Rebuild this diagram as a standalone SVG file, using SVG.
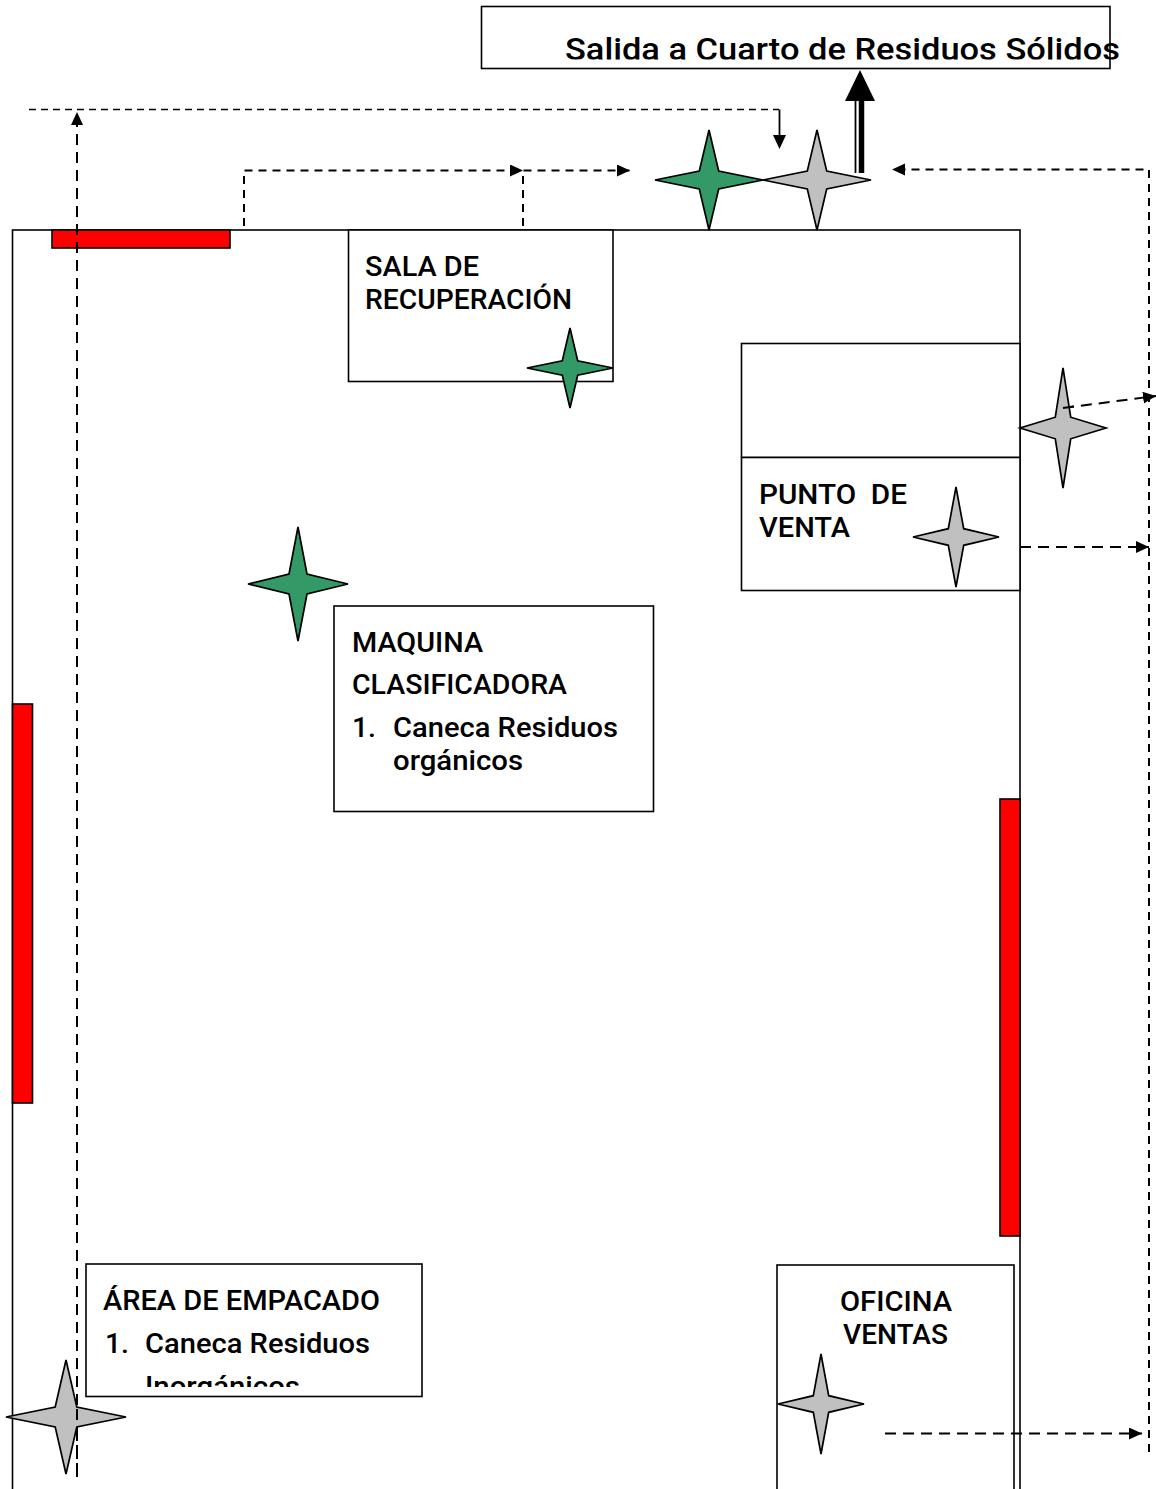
<svg xmlns="http://www.w3.org/2000/svg" width="1156" height="1489" viewBox="0 0 1156 1489">
<style>
.box{fill:#fff;stroke:#000;stroke-width:1.6}
.red{fill:#f00;stroke:#000;stroke-width:1.6}
.g{fill:#339966;stroke:#000;stroke-width:1.7;stroke-linejoin:miter}
.s{fill:#c0c0c0;stroke:#000;stroke-width:1.7;stroke-linejoin:miter}
.d{fill:none;stroke:#000;stroke-width:1.6;stroke-dasharray:7 5}
.h{fill:none;stroke:#000;stroke-width:2;stroke-dasharray:8 6}
.v{fill:none;stroke:#000;stroke-width:2;stroke-dasharray:11 7}
.t{font-family:Roboto,"Open Sans","Noto Sans",sans-serif;font-weight:500;font-size:28px;fill:#000}
</style>
<defs>
<marker id="a" markerUnits="userSpaceOnUse" markerWidth="14" markerHeight="14" refX="13" refY="6" orient="auto"><path d="M0 0L13 6L0 12Z" fill="#000"/></marker>
<clipPath id="c1"><rect x="482" y="6" width="680" height="53.500"/></clipPath>
<clipPath id="c2"><rect x="86" y="1264" width="336" height="123"/></clipPath>
</defs>
<g id="sala-principal">
<rect class="box" x="12.500" y="230" width="1007.500" height="1290"/>
</g>
<g id="red-top"><rect class="red" x="52" y="230" width="178" height="18"/></g>
<g id="red-left"><rect class="red" x="12.500" y="704" width="20" height="399"/></g>
<g id="red-right"><rect class="red" x="1000" y="799" width="20" height="437"/></g>
<g id="salida">
<rect class="box" x="481.500" y="6.500" width="628.500" height="62"/>
<text class="t" x="565" y="60" clip-path="url(#c1)" textLength="555" lengthAdjust="spacingAndGlyphs" style="font-size:32px">Salida a Cuarto de Residuos Sólidos</text>
</g>
<g id="sala-recuperacion">
<rect class="box" x="348.500" y="230" width="264.500" height="151.500"/>
<text class="t" x="365" y="276" textLength="114" lengthAdjust="spacingAndGlyphs">SALA DE</text>
<text class="t" x="365" y="309" textLength="207" lengthAdjust="spacingAndGlyphs">RECUPERACIÓN</text>
</g>
<g id="punto-venta">
<rect class="box" x="741.500" y="343.500" width="278.500" height="114"/>
<rect class="box" x="741.500" y="457.500" width="278.500" height="133"/>
<text class="t" x="759" y="504" textLength="148" lengthAdjust="spacingAndGlyphs" xml:space="preserve">PUNTO  DE</text>
<text class="t" x="759" y="537" textLength="91" lengthAdjust="spacingAndGlyphs">VENTA</text>
</g>
<g id="maquina">
<rect class="box" x="334" y="606" width="319.500" height="205.500"/>
<text class="t" x="352" y="652" textLength="131" lengthAdjust="spacingAndGlyphs">MAQUINA</text>
<text class="t" x="352" y="694" textLength="215" lengthAdjust="spacingAndGlyphs">CLASIFICADORA</text>
<text class="t" x="352" y="737" textLength="24" lengthAdjust="spacingAndGlyphs">1.</text>
<text class="t" x="393" y="737" textLength="225" lengthAdjust="spacingAndGlyphs">Caneca Residuos</text>
<text class="t" x="393" y="770" textLength="130" lengthAdjust="spacingAndGlyphs">orgánicos</text>
</g>
<g id="empacado">
<rect class="box" x="86" y="1264" width="336" height="132.500"/>
<text class="t" x="103" y="1310" textLength="277" lengthAdjust="spacingAndGlyphs">ÁREA DE EMPACADO</text>
<text class="t" x="105" y="1353" textLength="24" lengthAdjust="spacingAndGlyphs">1.</text>
<text class="t" x="145" y="1353" textLength="225" lengthAdjust="spacingAndGlyphs">Caneca Residuos</text>
<text class="t" x="145" y="1396" textLength="155" lengthAdjust="spacingAndGlyphs" clip-path="url(#c2)">Inorgánicos</text>
</g>
<g id="oficina">
<rect class="box" x="777" y="1265" width="237" height="260"/>
<text class="t" x="840" y="1311" textLength="112" lengthAdjust="spacingAndGlyphs">OFICINA</text>
<text class="t" x="843" y="1344" textLength="105" lengthAdjust="spacingAndGlyphs">VENTAS</text>
</g>
<g id="connectors">
<path class="d" d="M29 109.500H779"/>
<path d="M779.500 109.500V136" stroke="#000" stroke-width="1.800" fill="none"/>
<path d="M773 135H786L779.500 149Z"/>
<path class="v" d="M77 1477V112" marker-end="url(#a)"/>
<path class="h" d="M244 226V170.500H523" marker-end="url(#a)"/>
<path class="h" d="M523 226V170.500H630" marker-end="url(#a)"/>
<path class="h" d="M1149 1452V169.500H892" marker-end="url(#a)"/>
<path class="v" d="M1063 408L1156 396" marker-end="url(#a)"/>
<path class="v" d="M1020 547H1149" marker-end="url(#a)"/>
<path class="v" d="M885 1433.500H1142" marker-end="url(#a)"/>
<path d="M855.500 173V100" stroke="#000" stroke-width="1.800" fill="none"/>
<path d="M861.500 173V100" stroke="#000" stroke-width="5.500" fill="none"/>
<path d="M860 70L875 101H845Z"/>
</g>
<g id="star-green-top"><polygon class="g" points="709,130 718.700,171 763,180 718.700,189 709,230 699.300,189 655,180 699.300,171"/></g>
<g id="star-gray-top"><polygon class="s" points="817,130 826.700,171 871,180 826.700,189 817,230 807.300,189 763,180 807.300,171"/></g>
<g id="star-green-sala"><polygon class="g" points="570,328 577.700,360.800 613,368 577.700,375.200 570,408 562.300,375.200 527,368 562.300,360.800"/></g>
<g id="star-gray-right"><polygon class="s" points="1063,368 1070.700,417.200 1106,428 1070.700,438.800 1063,488 1055.300,438.800 1020,428 1055.300,417.200"/></g>
<g id="star-gray-punto"><polygon class="s" points="956,487 963.700,528.700 999,537 963.700,545.300 956,587 948.300,545.300 913,537 948.300,528.700"/></g>
<g id="star-green-mid"><polygon class="g" points="298,527 307,574 348,584 307,594 298,641 289,594 248,584 289,574"/></g>
<g id="star-gray-left"><polygon class="s" points="66,1360 76.800,1407 126,1417 76.800,1427 66,1474 55.200,1427 6,1417 55.200,1407"/></g>
<g id="star-gray-oficina"><polygon class="s" points="821,1354 828.700,1395.700 864,1404 828.700,1412.300 821,1454 813.300,1412.300 778,1404 813.300,1395.700"/></g>
<g id="connectors-over">
<path class="v" d="M77 1474V1404"/>
<path class="v" d="M1063 408L1076 406.300"/>
</g>
</svg>
